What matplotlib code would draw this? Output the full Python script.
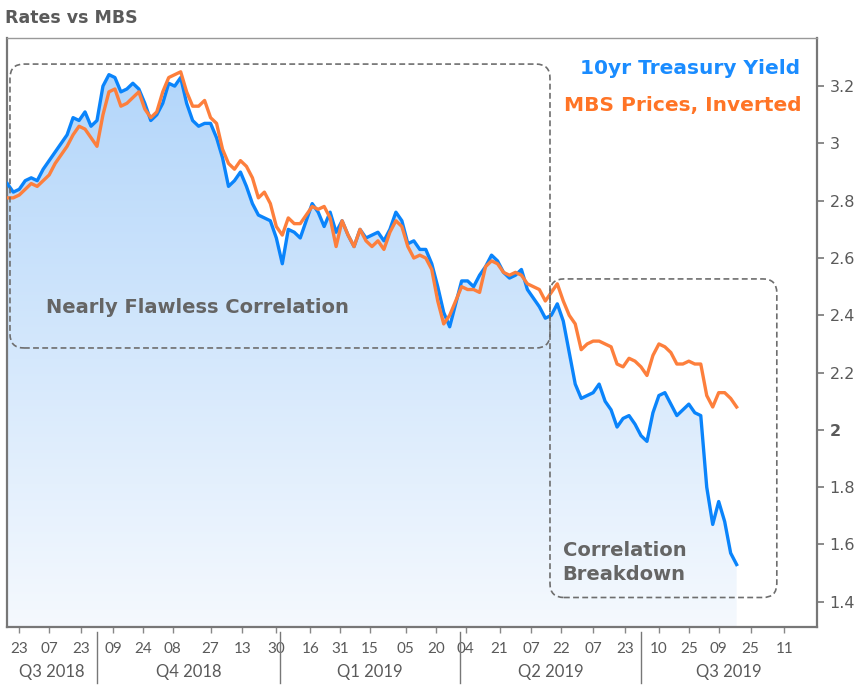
import numpy as np
import pandas as pd
import matplotlib
matplotlib.use('Agg')
from matplotlib import pyplot as plt
import matplotlib.dates as mdates
import matplotlib.transforms as mtransforms
from matplotlib.patches import FancyBboxPatch
from matplotlib.colors import LinearSegmentedColormap

# one value every 3 calendar days
dates = pd.date_range('2018-08-17', periods=123, freq='3D')
treasury = [2.86, 2.83, 2.84, 2.87, 2.88, 2.87, 2.91, 2.94, 2.97, 3.00,
            3.03, 3.09, 3.08, 3.11, 3.06, 3.08, 3.20, 3.24, 3.23, 3.18,
            3.19, 3.21, 3.19, 3.14, 3.08, 3.10, 3.14, 3.21, 3.20, 3.23,
            3.14, 3.08, 3.06, 3.07, 3.07, 3.02, 2.95, 2.85, 2.87, 2.90,
            2.85, 2.79, 2.75, 2.74, 2.73, 2.67, 2.58, 2.70, 2.69, 2.67,
            2.73, 2.79, 2.76, 2.71, 2.76, 2.69, 2.73, 2.68, 2.64, 2.70,
            2.67, 2.68, 2.69, 2.66, 2.70, 2.76, 2.73, 2.65, 2.66, 2.63,
            2.63, 2.58, 2.50, 2.41, 2.36, 2.44, 2.52, 2.52, 2.50, 2.54,
            2.57, 2.61, 2.59, 2.55, 2.53, 2.54, 2.56, 2.49, 2.46, 2.43,
            2.39, 2.40, 2.44, 2.38, 2.27, 2.16, 2.11, 2.12, 2.13, 2.16,
            2.10, 2.07, 2.01, 2.04, 2.05, 2.02, 1.98, 1.96, 2.06, 2.12,
            2.13, 2.09, 2.05, 2.07, 2.09, 2.06, 2.05, 1.80, 1.67, 1.75,
            1.68, 1.57, 1.53]
mbs_inverted = [2.81, 2.81, 2.82, 2.84, 2.86, 2.85, 2.87, 2.89, 2.93, 2.96,
                2.99, 3.03, 3.06, 3.05, 3.02, 2.99, 3.10, 3.18, 3.19, 3.13,
                3.14, 3.16, 3.18, 3.12, 3.09, 3.11, 3.18, 3.23, 3.24, 3.25,
                3.18, 3.13, 3.13, 3.15, 3.09, 3.07, 2.98, 2.93, 2.91, 2.94,
                2.92, 2.88, 2.81, 2.83, 2.79, 2.71, 2.68, 2.74, 2.72, 2.72,
                2.75, 2.78, 2.77, 2.78, 2.74, 2.64, 2.73, 2.68, 2.64, 2.70,
                2.66, 2.64, 2.66, 2.63, 2.69, 2.73, 2.71, 2.64, 2.60, 2.61,
                2.60, 2.56, 2.45, 2.37, 2.40, 2.45, 2.50, 2.49, 2.49, 2.48,
                2.57, 2.59, 2.58, 2.55, 2.54, 2.55, 2.54, 2.51, 2.50, 2.49,
                2.45, 2.48, 2.51, 2.45, 2.40, 2.37, 2.28, 2.30, 2.31, 2.31,
                2.30, 2.29, 2.23, 2.22, 2.25, 2.24, 2.22, 2.19, 2.26, 2.30,
                2.29, 2.27, 2.23, 2.23, 2.24, 2.23, 2.23, 2.12, 2.08, 2.13,
                2.13, 2.11, 2.08]

tick_dates = pd.to_datetime(['2018-08-23', '2018-09-07', '2018-09-23', '2018-10-09',
                             '2018-10-24', '2018-11-08', '2018-11-27', '2018-12-13',
                             '2018-12-30', '2019-01-16', '2019-01-31', '2019-02-15',
                             '2019-03-05', '2019-03-20', '2019-04-04', '2019-04-21',
                             '2019-05-07', '2019-05-22', '2019-06-07', '2019-06-23',
                             '2019-07-10', '2019-07-25', '2019-08-09', '2019-08-25',
                             '2019-09-11'])
quarter_starts = pd.to_datetime(['2018-10-01', '2019-01-01', '2019-04-01', '2019-07-01'])
quarter_names = ['Q3 2018', 'Q4 2018', 'Q1 2019', 'Q2 2019', 'Q3 2019']
y_ticks = [1.4, 1.6, 1.8, 2.0, 2.2, 2.4, 2.6, 2.8, 3.0, 3.2]
y_labels = ['1.4', '1.6', '1.8', '2', '2.2', '2.4', '2.6', '2.8', '3', '3.2']

blue = '#0a84fb'
orange = '#fd7f3c'
gray_txt = '#5a5a5a'

x0 = mdates.date2num(pd.Timestamp('2018-08-16 20:00'))
x1 = mdates.date2num(pd.Timestamp('2019-09-27 08:00'))
y0, y1 = 1.312, 3.368

fig = plt.figure(figsize=(8.62, 6.86), dpi=100)
ax = fig.add_axes([0.0081, 0.086, 0.9397, 0.8586])

# gradient fill under the treasury line
poly = ax.fill_between(dates, treasury, y0, facecolor='none', edgecolor='none')
cmap = LinearSegmentedColormap.from_list('fillgrad', ['#f5f9fe', '#b3d6fa'])
grad = np.linspace(1, 0, 256).reshape(-1, 1)
im = ax.imshow(grad, extent=[x0, x1, y0, max(treasury)], aspect='auto', cmap=cmap,
               origin='upper', zorder=1)
im.set_clip_path(poly.get_paths()[0], transform=ax.transData)

ax.plot(dates, treasury, color=blue, lw=2.4, zorder=3)
ax.plot(dates, mbs_inverted, color=orange, lw=2.4, zorder=4)

ax.set_xlim(x0, x1)
ax.set_ylim(y0, y1)

# rounded dashed boxes
px_day = ax.bbox.width / (x1 - x0)
px_val = ax.bbox.height / (y1 - y0)
aspect = px_day / px_val
boxes = [(pd.Timestamp('2018-08-18 08:00'), pd.Timestamp('2019-05-16 08:00'), 2.286, 3.277),
         (pd.Timestamp('2019-05-16 08:00'), pd.Timestamp('2019-09-07 04:00'), 1.415, 2.527)]
for bx0, bx1, by0, by1 in boxes:
    a = mdates.date2num(bx0)
    b = mdates.date2num(bx1)
    box = FancyBboxPatch((a, by0), b - a, by1 - by0,
                         boxstyle='round,pad=0,rounding_size=7',
                         mutation_aspect=aspect, fill=False,
                         edgecolor='#6e6e6e', lw=1.2, linestyle=(0, (3.5, 2)), zorder=5)
    ax.add_patch(box)

ax.text(0.2346, 0.543, 'Nearly Flawless Correlation', transform=ax.transAxes,
        ha='center', va='center', fontsize=14, fontweight='bold', color='#656565', zorder=6)
ax.text(0.686, 0.110, 'Correlation\nBreakdown', transform=ax.transAxes,
        ha='left', va='center', fontsize=14, fontweight='bold', color='#656565',
        linespacing=1.35, zorder=6)

ax.text(0.979, 0.949, '10yr Treasury Yield', transform=ax.transAxes, ha='right', va='center',
        fontsize=14.5, fontweight='bold', color='#1a8cff', zorder=6)
ax.text(0.981, 0.885, 'MBS Prices, Inverted', transform=ax.transAxes, ha='right', va='center',
        fontsize=14.5, fontweight='bold', color='#ff7426', zorder=6)

fig.text(0.006, 0.974, 'Rates vs MBS', ha='left', va='center', fontsize=12.5,
         fontweight='bold', color=gray_txt)

# axes styling
for s in ax.spines.values():
    s.set_color('#777777')
    s.set_linewidth(1.6)
ax.spines['top'].set_color('#999999')
ax.spines['top'].set_linewidth(1.0)

ax.yaxis.tick_right()
ax.set_yticks(y_ticks)
ax.set_yticklabels(y_labels)
ax.tick_params(axis='y', length=5, width=1.2, color='#777777', pad=4,
               labelsize=11.5, labelcolor=gray_txt)
for t in ax.get_yticklabels():
    if t.get_text() == '2':
        t.set_fontweight('bold')

ax.set_xticks(mdates.date2num(tick_dates))
ax.set_xticklabels([d.strftime('%d') for d in tick_dates])
ax.tick_params(axis='x', length=4, width=1.0, color='#888888', pad=7,
               labelsize=11, labelcolor=gray_txt)
for t in ax.get_xticklabels():
    t.set_family('Lato')

# quarter separators and labels
trans = mtransforms.blended_transform_factory(ax.transData, ax.transAxes)
qnum = list(mdates.date2num(quarter_starts))
for q in qnum:
    ax.plot([q, q], [-0.008, -0.095], transform=trans, color='#777777', lw=1.0, clip_on=False)
edges = [x0] + qnum + [x1]
for i, name in enumerate(quarter_names):
    ax.text((edges[i] + edges[i + 1]) / 2, -0.077, name, transform=trans, ha='center',
            va='center', fontsize=12, color=gray_txt, family='Lato')

fig.savefig('out.png', dpi=100)
